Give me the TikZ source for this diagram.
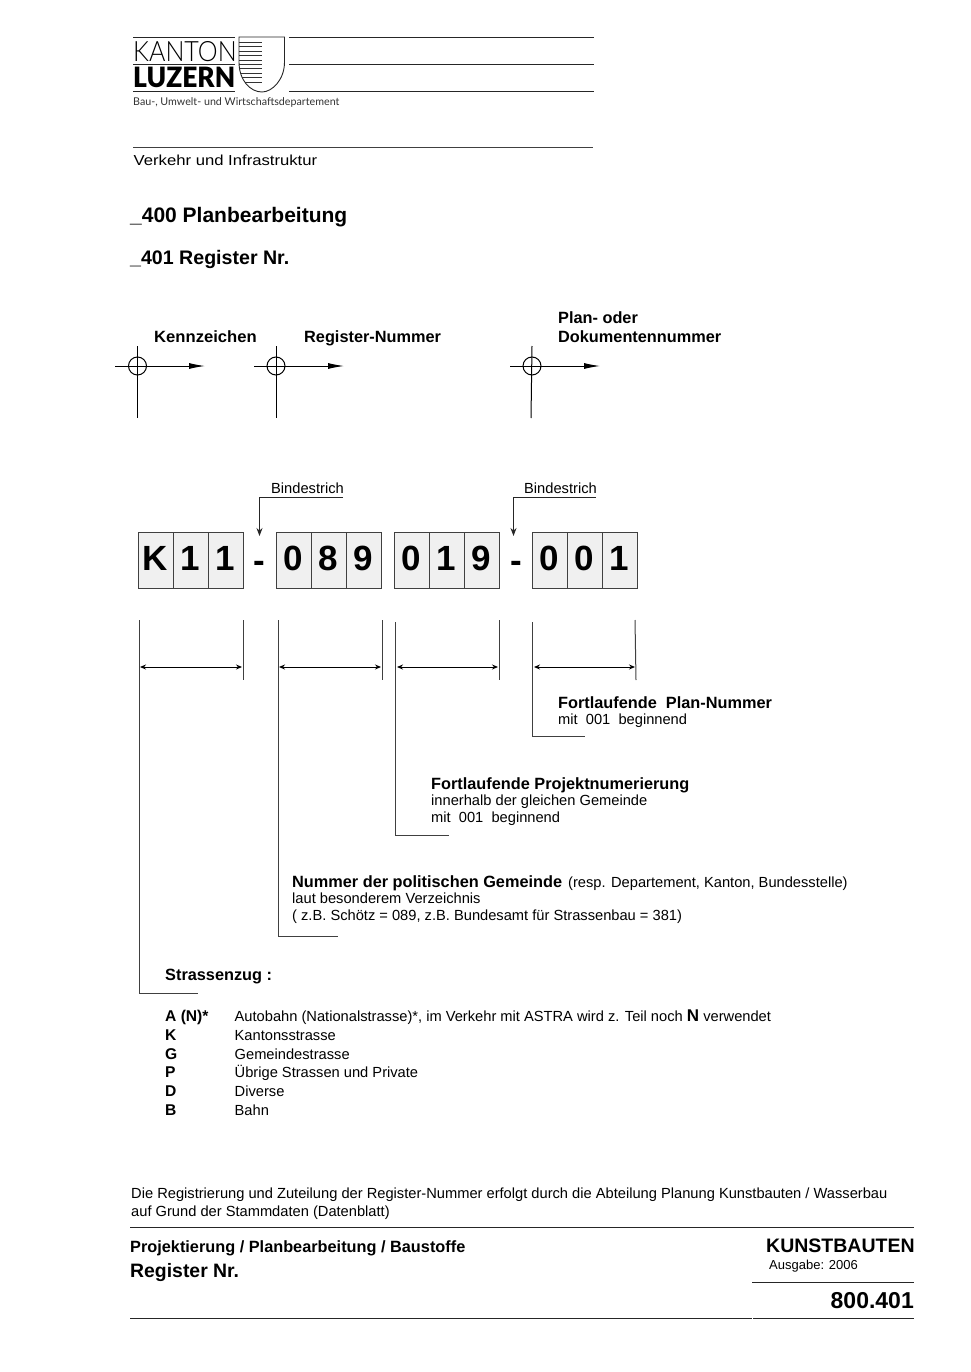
\documentclass[tikz,border=0pt]{standalone}
\usepackage{fontspec}
\setmainfont{Liberation Sans}
\newfontfamily\logolight{Lato Light}
\newfontfamily\logoheavy{Lato Black}
\newfontfamily\logotext{Lato}
\usetikzlibrary{arrows.meta, positioning, calc}
\begin{document}
\begin{tikzpicture}[
      x=1pt, y=-1pt,
      node distance=0pt,
      txt/.style={anchor=base west, inner sep=0pt, align=left},
      plain/.style={txt, font=\fontsize{14.67}{17}\selectfont},
      strong/.style={txt, font=\fontsize{16.3}{17}\bfseries\selectfont},
      keyletter/.style={txt, font=\fontsize{15.6}{17}\bfseries\selectfont},
      title/.style={txt, font=\fontsize{21}{23}\bfseries\selectfont},
      cell/.style={rectangle, draw=black!75, line width=0.9pt, fill=gray!12, minimum width=35pt,
        minimum height=56pt, inner sep=0pt, outer sep=0pt, text depth=4pt,
        font=\fontsize{35}{35}\bfseries\selectfont},
      hyphen/.style={inner sep=0pt, font=\fontsize{35}{35}\bfseries\selectfont},
      rulefine/.style={line width=0.9pt, black!85},
      guide/.style={line width=1pt, black!75},
      measure/.style={{Stealth[length=6pt,width=5pt]}-{Stealth[length=6pt,width=5pt]}, line width=0.9pt},
      pointer/.style={-{Stealth[length=8pt,width=6pt]}, line width=0.9pt, black!85},
      axis/.style={-{Latex[length=16pt,width=6pt]}, line width=1pt},
      crosshair/.style={circle, draw, line width=1pt, minimum size=18pt, inner sep=0pt}
    ]
    \useasboundingbox (0,0) rectangle (970,1372);

    % ---- letterhead ----
    \coordinate (headA) at (133,37.3);
    \coordinate (headB) at (133,64.4);
    \coordinate (headC) at (133,91.7);
    \draw[rulefine] (headA) -- ++(102,0) (headB) -- ++(102,0) (headC) -- ++(102,0);
    \draw[rulefine] (289,37.3) -- (594,37.3) (289,64.4) -- (594,64.4) (289,91.7) -- (594,91.7);
    \node[txt, font=\logolight\fontsize{28}{28}\selectfont] (kanton) at (133,61.5) {\scalebox{0.895}[1]{KANTON}};
    \node[txt, font=\logoheavy\fontsize{28}{28}\selectfont] (luzern) at (133,88) {\scalebox{0.94}[1]{LUZERN}};
    \node[txt, font=\logotext\fontsize{10.7}{12}\selectfont, black!80] (dept) at (133,105.5) {Bau-, Umwelt- und Wirtschaftsdepartement};
    % shield, stripes on its left half
    \begin{scope}
      \clip (239,37) -- (284.5,37) -- (284.5,62) .. controls (284.5,80) and (272,92) .. (262,92)
            .. controls (250,92) and (239,80) .. (239,62) -- cycle;
      \foreach \y in {42.3,46.7,51.1,55.6,60,64.4,68.9,73.3,77.7,82.2}
        \draw[line width=0.8pt, black!80] (239,\y) -- (262,\y);
    \end{scope}
    \draw[line width=0.9pt, black!85] (239,37) -- (284.5,37) -- (284.5,62)
            .. controls (284.5,80) and (272,92) .. (262,92)
            .. controls (250,92) and (239,80) .. (239,62) -- cycle;
    \draw[line width=0.7pt, black!75] (133,147.5) -- (593,147.5);
    \node[txt, font=\fontsize{14.5}{17}\selectfont] (infra) at (133.5,166) {\scalebox{1.15}[1]{Verkehr und Infrastruktur}};

    % ---- headings ----
    \node[title] (h400) at (130,223) {\_400 Planbearbeitung};
    \node[title, font=\fontsize{19.6}{23}\bfseries\selectfont] (h401) at (130,264) {\_401 Register Nr.};

    % ---- reference marks ----
    \node[strong] (kenn) at (154,342) {\scalebox{1.02}[1]{Kennzeichen}};
    \node[strong] (regn) at (304,342) {Register-Nummer};
    \node[strong] (plan) at (558,323) {Plan- oder};
    \node[strong] (doku) at (558,342) {Dokumentennummer};

    \node[crosshair] (markA) at (137.5,366) {};
    \node[crosshair] (markB) at (276,366) {};
    \node[crosshair] (markC) at (532,366) {};
    \draw[axis] (115,366) -- (205,366);
    \draw[axis] (254,366) -- (344,366);
    \draw[axis] (510,366) -- (600,366);
    \draw[line width=1pt] (markA.center) ++(-0.5,-20) -- ++(0,72);
    \draw[line width=1pt] (markB.center) ++(0,-20) -- ++(0,72);
    \draw[line width=1pt] (markC.center) ++(0,-20) -- ++(-1,72);

    % ---- number cells ----
    \node[cell]                (c1) at (155.5,560) {K};
    \node[cell, right=of c1]   (c2) {1};
    \node[cell, right=of c2]   (c3) {1};
    \node[hyphen]              (d1) at (259.5,567) {-};
    \node[cell]                (c4) at (293.5,560) {0};
    \node[cell, right=of c4]   (c5) {8};
    \node[cell, right=of c5]   (c6) {9};
    \node[cell]                (c7) at (411.5,560) {0};
    \node[cell, right=of c7]   (c8) {1};
    \node[cell, right=of c8]   (c9) {9};
    \node[hyphen]              (d2) at (516.5,567) {-};
    \node[cell]                (c10) at (549.7,560) {0};
    \node[cell, right=of c10]  (c11) {0};
    \node[cell, right=of c11]  (c12) {1};

    % hyphen pointers
    \node[plain] (bindA) at (271,493) {Bindestrich};
    \node[plain] (bindB) at (524,493) {Bindestrich};
    \coordinate (tailA) at (343,497);
    \coordinate (tailB) at (596,497);
    \draw[pointer] (tailA) -- (259.5,497) -- (259.5,536);
    \draw[pointer] (tailB) -- (513.5,497) -- (513.5,536);

    % ---- measure lines ----
    \coordinate (topA) at (139,620);
    \coordinate (topB) at (278,620);
    \coordinate (topC) at (395,622);
    \coordinate (topD) at (532,622);
    \draw[guide] (topA) -- (139,993) -- (198,993);
    \draw[guide] (topB) -- (278,936) -- (338,936);
    \draw[guide] (topC) -- (395,835) -- (449,835);
    \draw[guide] (topD) -- (532,736) -- (585,736);
    \draw[guide] (243,620) -- (243,680);
    \draw[guide] (382,620) -- (382,680);
    \draw[guide] (499,620) -- (499,680);
    \draw[guide] (635,620) -- (636,680);
    \draw[measure] (140,667) -- (242,667);
    \draw[measure] (279,667) -- (381,667);
    \draw[measure] (397,667) -- (498,667);
    \draw[measure] (534,667) -- (635,667);

    % ---- explanations ----
    \node[strong] (lblD) at (558,708) {Fortlaufende~~Plan-Nummer};
    \node[plain]  (lblDa) at (558,724) {mit~~001~~beginnend};
    \node[strong] (lblC) at (431,789) {Fortlaufende Projektnumerierung};
    \node[plain]  (lblCa) at (431,805) {innerhalb der gleichen Gemeinde};
    \node[plain]  (lblCb) at (431,822) {mit~~001~~beginnend};
    \node[strong] (lblB) at (292,887) {Nummer der politischen Gemeinde};
    \node[plain]  (lblBx) at (568,887) {(resp. Departement, Kanton, Bundesstelle)};
    \node[plain]  (lblBa) at (292,903) {laut besonderem Verzeichnis};
    \node[plain]  (lblBb) at (292,920) {( z.B. Schötz = 089, z.B. Bundesamt für Strassenbau = 381)};
    \node[strong] (lblA) at (165,980) {Strassenzug :};

    % ---- road classes ----
    \node[keyletter] (kA) at (165,1021) {A (N)*};
    \node[keyletter] (kK) at (165,1040) {K};
    \node[keyletter] (kG) at (165,1059) {G};
    \node[keyletter] (kP) at (165,1077) {P};
    \node[keyletter] (kD) at (165,1096) {D};
    \node[keyletter] (kB) at (165,1115) {B};
    \node[plain] (tA) at (234.5,1021) {Autobahn (Nationalstrasse)*, im Verkehr mit ASTRA wird z. Teil noch {\fontsize{17}{17}\bfseries\selectfont N} verwendet};
    \node[plain] (tK) at (234.5,1040) {Kantonsstrasse};
    \node[plain] (tG) at (234.5,1059) {Gemeindestrasse};
    \node[plain] (tP) at (234.5,1077) {Übrige Strassen und Private};
    \node[plain] (tD) at (234.5,1096) {Diverse};
    \node[plain] (tB) at (234.5,1115) {Bahn};

    % ---- footer ----
    \node[plain] (noteA) at (131,1198) {Die Registrierung und Zuteilung der Register-Nummer erfolgt durch die Abteilung Planung Kunstbauten / Wasserbau};
    \node[plain] (noteB) at (131,1216) {auf Grund der Stammdaten (Datenblatt)};
    \draw[rulefine] (130,1227) -- (914,1227);
    \node[strong] (projekt) at (130,1252) {Projektierung / Planbearbeitung / Baustoffe};
    \node[txt, font=\fontsize{19.4}{21}\bfseries\selectfont] (regnr) at (130,1277) {Register Nr.};
    \node[txt, font=\fontsize{19.5}{21}\bfseries\selectfont] (kunst) at (766,1252) {KUNSTBAUTEN};
    \node[txt, font=\fontsize{13}{15}\selectfont] (ausgabe) at (769,1269) {Ausgabe: 2006};
    \draw[rulefine] (752,1282) -- (914,1282);
    \node[anchor=base east, inner sep=0pt, font=\fontsize{23}{25}\bfseries\selectfont] (blatt) at (914,1308) {800.401};
    \draw[rulefine] (130,1318) -- (752,1318);
    \draw[rulefine] (753,1318) -- (914,1318);
\end{tikzpicture}
\end{document}
